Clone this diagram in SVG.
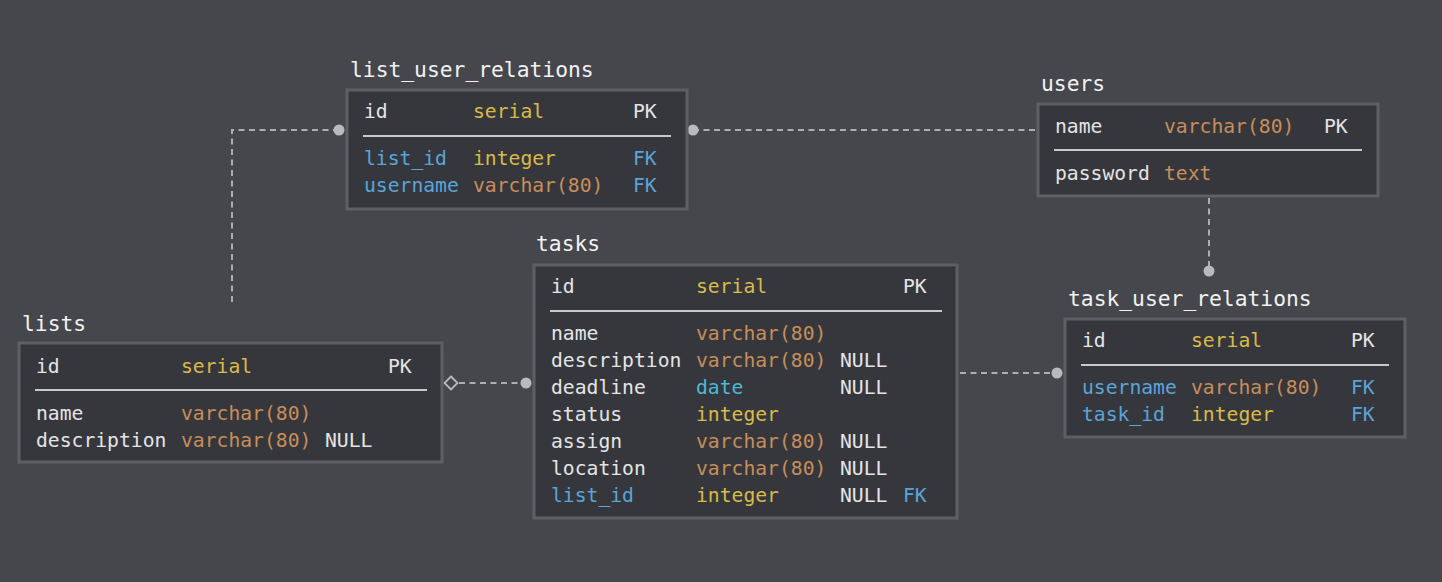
<svg xmlns="http://www.w3.org/2000/svg" width="1442" height="582" viewBox="0 0 1442 582">
<style>
.bg{fill:#46474c}
.box{fill:#36373c;stroke:#5e5f64;stroke-width:3}
.sep{stroke:#c9c9cb;stroke-width:2}
text{font-family:"DejaVu Sans Mono","Liberation Mono",monospace;font-size:19.7px}
.title{font-size:21.3px;fill:#f2f2f2}
.w{fill:#e4e4e6}
.y{fill:#d8bb48}
.o{fill:#c78e5a}
.b{fill:#5aa4da}
.c{fill:#4bb9d8}
.conn{fill:none;stroke:#adaeb2;stroke-width:2;stroke-dasharray:6 4.5}
.dot{fill:#b9babe}
.dia{fill:none;stroke:#b9babe;stroke-width:1.8}
</style>
<rect class="bg" x="0" y="0" width="1442" height="582"/>
<g id="connectors">
<path class="conn" d="M232 302 V130 H339"/>
<circle class="dot" cx="339" cy="130" r="5.5"/>
<path class="conn" d="M693 130 H1036"/>
<circle class="dot" cx="693" cy="130" r="5.5"/>
<path class="conn" d="M1209 198 V271"/>
<circle class="dot" cx="1209" cy="271" r="5.5"/>
<path class="conn" d="M960 373 H1057"/>
<circle class="dot" cx="1057" cy="373" r="5.5"/>
<path class="conn" d="M459 383 H526"/>
<path class="dia" d="M451 376.5 L457.5 383 L451 389.5 L444.5 383 Z"/>
<circle class="dot" cx="526" cy="383" r="5.5"/>
</g>
<g id="list_user_relations">
<text class="title" x="350" y="77">list_user_relations</text>
<rect class="box" x="347" y="90" width="340" height="119"/>
<text class="w" x="364" y="118">id</text><text class="y" x="473" y="118">serial</text><text class="w" x="633" y="118">PK</text>
<line class="sep" x1="363" y1="136" x2="671" y2="136"/>
<text class="b" x="364" y="165">list_id</text><text class="y" x="473" y="165">integer</text><text class="b" x="633" y="165">FK</text>
<text class="b" x="364" y="192">username</text><text class="o" x="473" y="192">varchar(80)</text><text class="b" x="633" y="192">FK</text>
</g>
<g id="users">
<text class="title" x="1041" y="91">users</text>
<rect class="box" x="1038" y="104" width="340" height="92"/>
<text class="w" x="1055" y="133">name</text><text class="o" x="1164" y="133">varchar(80)</text><text class="w" x="1324" y="133">PK</text>
<line class="sep" x1="1054" y1="150" x2="1362" y2="150"/>
<text class="w" x="1055" y="180">password</text><text class="o" x="1164" y="180">text</text>
</g>
<g id="task_user_relations">
<text class="title" x="1068" y="306">task_user_relations</text>
<rect class="box" x="1065" y="319" width="340" height="118"/>
<text class="w" x="1082" y="347">id</text><text class="y" x="1191" y="347">serial</text><text class="w" x="1351" y="347">PK</text>
<line class="sep" x1="1081" y1="365" x2="1389" y2="365"/>
<text class="b" x="1082" y="394">username</text><text class="o" x="1191" y="394">varchar(80)</text><text class="b" x="1351" y="394">FK</text>
<text class="b" x="1082" y="421">task_id</text><text class="y" x="1191" y="421">integer</text><text class="b" x="1351" y="421">FK</text>
</g>
<g id="tasks">
<text class="title" x="536" y="251">tasks</text>
<rect class="box" x="534" y="265" width="423" height="253"/>
<text class="w" x="551" y="293">id</text><text class="y" x="696" y="293">serial</text><text class="w" x="903" y="293">PK</text>
<line class="sep" x1="550" y1="311" x2="942" y2="311"/>
<text class="w" x="551" y="340">name</text><text class="o" x="696" y="340">varchar(80)</text>
<text class="w" x="551" y="367">description</text><text class="o" x="696" y="367">varchar(80)</text><text class="w" x="840" y="367">NULL</text>
<text class="w" x="551" y="394">deadline</text><text class="c" x="696" y="394">date</text><text class="w" x="840" y="394">NULL</text>
<text class="w" x="551" y="421">status</text><text class="y" x="696" y="421">integer</text>
<text class="w" x="551" y="448">assign</text><text class="o" x="696" y="448">varchar(80)</text><text class="w" x="840" y="448">NULL</text>
<text class="w" x="551" y="475">location</text><text class="o" x="696" y="475">varchar(80)</text><text class="w" x="840" y="475">NULL</text>
<text class="b" x="551" y="502">list_id</text><text class="y" x="696" y="502">integer</text><text class="w" x="840" y="502">NULL</text><text class="b" x="903" y="502">FK</text>
</g>
<g id="lists">
<text class="title" x="22" y="331">lists</text>
<rect class="box" x="19" y="343" width="423" height="119"/>
<text class="w" x="36" y="373">id</text><text class="y" x="181" y="373">serial</text><text class="w" x="388" y="373">PK</text>
<line class="sep" x1="35" y1="390" x2="427" y2="390"/>
<text class="w" x="36" y="420">name</text><text class="o" x="181" y="420">varchar(80)</text>
<text class="w" x="36" y="447">description</text><text class="o" x="181" y="447">varchar(80)</text><text class="w" x="325" y="447">NULL</text>
</g>
</svg>
